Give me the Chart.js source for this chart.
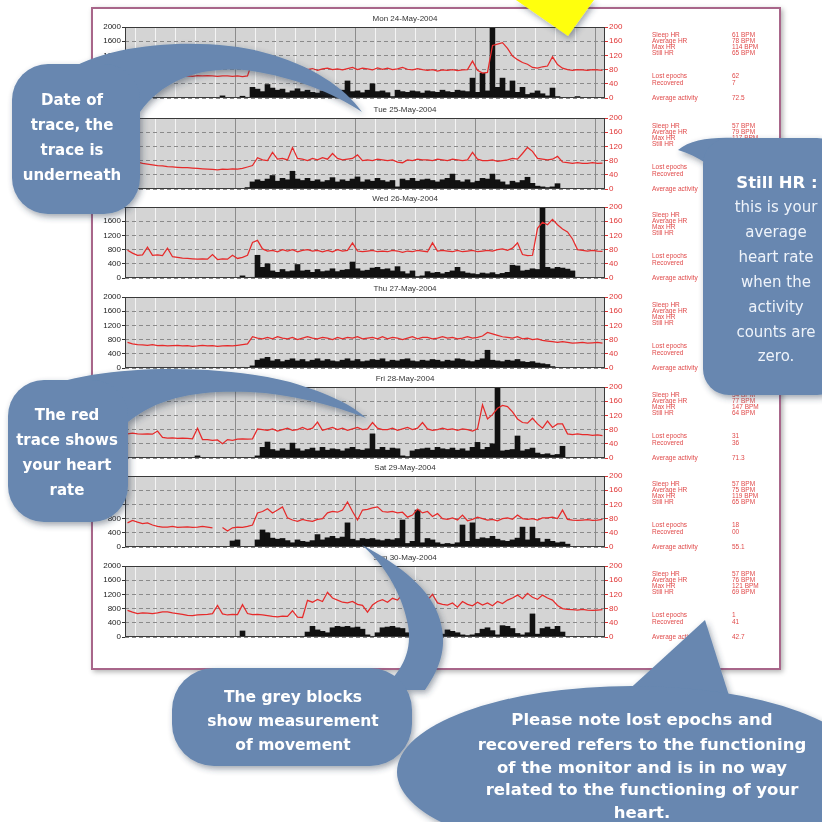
<!DOCTYPE html>
<html><head><meta charset="utf-8">
<script src="https://cdn.jsdelivr.net/npm/chart.js@4.4.1/dist/chart.umd.min.js"></script>
<style>
html,body{margin:0;padding:0;background:#fff;width:822px;height:822px;overflow:hidden;position:relative;font-family:"Liberation Sans",Arial,sans-serif;}
#frame{position:absolute;left:91px;top:7px;width:686px;height:659px;border:2px solid #a8668a;box-shadow:2px 2px 5px rgba(0,0,0,.3);}
.panel{position:absolute;left:95px;width:620px;height:91px;}
.stat{position:absolute;font-size:6.5px;color:#e04a4a;white-space:nowrap;line-height:7px;}
#ov{position:absolute;left:0;top:0;}
</style></head><body>
<div id="frame"></div>
<div id="panels"></div>
<svg id="ov" width="822" height="822" viewBox="0 0 822 822" xmlns="http://www.w3.org/2000/svg">
<defs><filter id="sh" x="-20%" y="-20%" width="140%" height="140%"><feDropShadow dx="2" dy="3" stdDeviation="3" flood-color="#2a3a50" flood-opacity="0.45"/></filter></defs>
<g filter="url(#sh)"><polygon points="516,0 594,0 568,36" fill="#ffff10"/></g>
<g fill="#6787b0" filter="url(#sh)">
 <path d="M 62,74 C 110,40 210,38 262,52 C 312,65 345,88 362,112 C 332,92 292,77 252,71 C 205,65 165,78 140,112 Z"/>
 <rect x="12" y="64" width="128" height="150" rx="36"/>
</g>
<g fill="#6787b0" filter="url(#sh)">
 <path d="M 678,150 C 690,140 710,137 735,138 L 735,185 C 715,168 698,156 678,150 Z"/>
 <rect x="703" y="138" width="140" height="257" rx="26"/>
</g>
<g fill="#6787b0" filter="url(#sh)">
 <path d="M 30,394 C 90,362 220,364 290,382 C 330,394 352,405 366,418 C 330,404 290,394 250,392 C 200,390 160,396 128,422 Z"/>
 <rect x="8" y="380" width="120" height="142" rx="36"/>
</g>
<g fill="#6787b0" filter="url(#sh)">
 <path d="M 362,545 C 400,565 432,590 440,620 C 447,645 442,665 425,690 L 380,690 C 405,670 412,648 408,625 C 403,598 388,568 362,545 Z"/>
 <rect x="172" y="668" width="240" height="98" rx="42"/>
</g>
<g fill="#6787b0" filter="url(#sh)">
 <polygon points="705,620 732,705 612,705"/>
 <ellipse cx="632" cy="772" rx="235" ry="86"/>
</g>
<g fill="#fff" font-family="DejaVu Sans" font-weight="bold" font-size="15" text-anchor="middle">
 <text x="72" y="105">Date of</text><text x="72" y="130">trace, the</text><text x="72" y="155">trace is</text><text x="72" y="180">underneath</text>
 <text x="67" y="420">The red</text><text x="67" y="445">trace shows</text><text x="67" y="470">your heart</text><text x="67" y="495">rate</text>
 <g font-size="15.5"><text x="293" y="702">The grey blocks</text><text x="293" y="726">show measurement</text><text x="293" y="750">of movement</text></g>
 <g font-size="16.5"><text x="642" y="725">Please note lost epochs and</text><text x="642" y="750">recovered refers to the functioning</text><text x="642" y="773">of the monitor and is in no way</text><text x="642" y="795">related to the functioning of your</text><text x="642" y="818">heart.</text></g>
 <text x="777" y="188" font-size="16.5">Still HR :</text>
</g>
<g fill="#eef3fa" font-family="DejaVu Sans" font-size="15" text-anchor="middle">
 <text x="776" y="212">this is your</text><text x="776" y="237">average</text><text x="776" y="262">heart rate</text><text x="776" y="287">when the</text><text x="776" y="312">activity</text><text x="776" y="337">counts are</text><text x="776" y="361">zero.</text>
</g>
</svg>
<script>
const TITLES = ['Mon 24-May-2004','Tue 25-May-2004','Wed 26-May-2004','Thu 27-May-2004','Fri 28-May-2004','Sat 29-May-2004','Sun 30-May-2004'];
const ACT_TICKS = [0,400,800,1200,1600,2000];
const HR_TICKS = [0,40,80,120,160,200];
const STAT_LABELS = ['Sleep HR','Average HR','Max HR','Still HR','Lost epochs','Recovered','Average activity'];
const STATS_MON = ['61 BPM','78 BPM','114 BPM','65 BPM','62','7','72.5'];
const STATS_TUE = ['57 BPM','79 BPM','117 BPM','66 BPM','24','12','84.2'];
const STATS_WED = ['53 BPM','77 BPM','165 BPM','62 BPM','15','22','68.4'];
const STATS_THU = ['60 BPM','80 BPM','112 BPM','66 BPM','20','18','64.0'];
const STATS_FRI = ['54 BPM','77 BPM','147 BPM','64 BPM','31','36','71.3'];
const STATS_SAT = ['57 BPM','75 BPM','119 BPM','65 BPM','18','00','55.1'];
const STATS_SUN = ['57 BPM','76 BPM','121 BPM','69 BPM','1','41','42.7'];

// heart rate (bpm), 15-minute epochs, 00:00 - 24:00
const HR_MON = [
62,62,61,63, 62,61,62,61, 62,63,62,61, 62,61,63,62, 63,62,61,62, 62,61,62,60,
62,104,86,82, 84,80,88,82, 79,84,81,86, 80,83,78,82, 84,80,82,79, 83,86,80,84,
82,79,85,81, 84,80,82,86, 81,79,83,80, 78,80,76,79, 78,80,77,79, 80,104,78,70,
72,148,152,156, 140,118,108,100, 95,86,84,88, 90,116,94,84, 80,78,80,79, 78,80,79,78];
const HR_TUE = [
80,92,76,72, 70,68,66,65, 63,62,61,60, 60,59,58,57, 56,55,54,56, 55,57,56,58,
62,66,88,82, 80,103,84,86, 82,117,86,84, 80,86,82,88, 84,100,86,82, 84,86,96,80,
82,80,84,82, 80,82,76,74, 82,80,84,82, 82,80,84,82, 80,84,82,80, 82,103,84,80,
80,82,78,80, 82,86,84,100, 117,106,86,84, 82,84,92,76, 74,72,74,72, 72,74,72,73];
const HR_WED = [
78,70,64,65, 87,64,65,63, 84,60,58,56, 55,54,53,54, 53,66,52,54, 53,64,55,58,
64,100,106,82, 76,78,74,80, 76,80,74,78, 80,76,78,74, 78,74,80,76, 78,99,76,74,
76,78,74,76, 74,78,76,72, 76,74,78,76, 74,99,76,78, 76,74,78,74, 76,78,74,76,
78,76,80,82, 78,84,99,66, 63,64,140,157, 150,165,150,138, 130,110,80,78, 76,78,76,75];
const HR_THU = [
72,68,66,65, 64,66,63,64, 62,63,64,62, 63,61,62,64, 62,63,61,62, 63,62,64,66,
68,88,84,82, 86,82,88,84, 82,86,80,84, 88,84,82,86, 84,80,86,82, 86,84,88,82,
84,86,82,88, 82,86,84,80, 84,88,82,86, 86,82,84,88, 84,86,82,84, 88,84,86,90,
100,96,92,88, 86,84,88,82, 84,80,82,78, 76,74,72,74, 72,70,71,72, 70,71,72,70];
const HR_FRI = [
68,70,68,67, 68,67,76,58, 56,57,55,56, 55,54,84,52, 52,50,51,40, 52,50,53,54,
53,54,82,80, 78,82,76,80, 84,78,80,86, 80,84,101,78, 82,86,80,84, 78,82,86,80,
82,100,84,80, 80,84,78,82, 86,80,84,100, 82,78,80,84, 80,82,78,82, 80,76,82,150,
110,122,140,148, 145,130,110,100, 98,112,96,84, 104,86,96,96, 68,66,68,66, 66,64,65,63];
const HR_SAT = [
68,75,70,66, 68,62,58,56, 56,58,55,56, 57,55,56,58, 56,54,null,55, 45,54,56,55,
58,62,96,100, 108,96,104,113, 82,76,72,78, 74,72,78,80, 96,100,98,104, 127,100,76,104,
106,110,113,100, 98,100,96,98, 84,90,107,96, 100,86,94,80, 78,82,76,90, 74,78,84,80,
76,78,74,80, 82,78,90,80, 78,80,76,82, 82,84,80,104, 78,76,75,76, 77,75,76,78];
const HR_SUN = [
75,70,66,68, 67,66,68,71, 71,68,66,64, 61,60,62,63, 64,66,89,65, 62,64,63,91,
66,63,64,62, 60,58,57,59, 58,74,56,55, 103,98,106,100, 126,110,104,98, 96,100,92,89,
70,90,100,105, 98,109,104,120, 88,72,96,100, 104,120,96,92, 90,96,84,100, 92,88,98,90,
96,88,100,94, 104,110,118,108, 123,112,106,118, 110,104,89,80, 78,77,76,78, 76,75,76,77];

// activity counts, 15-minute epochs
const ACT_MON = [
0,0,0,10, 0,0,0,0, 0,10,0,0, 0,0,0,0, 0,0,0,60, 0,0,0,50,
20,300,250,180, 380,280,220,250, 150,200,260,180, 220,160,140,200, 160,200,140,220, 480,180,200,150,
220,400,180,200, 150,40,220,180, 160,200,180,140, 200,180,160,220, 180,160,220,200, 180,560,160,700,
200,2000,300,560, 200,480,160,300, 100,140,200,120, 60,280,40,0, 0,0,40,0, 0,0,0,0];
const ACT_TUE = [
0,0,0,0, 0,0,0,0, 0,0,0,0, 0,0,0,0, 0,0,0,0, 0,0,0,0,
40,200,260,220, 280,380,220,300, 260,500,280,240, 300,220,260,200, 240,320,200,260, 220,280,340,200,
260,220,300,240, 200,240,60,280, 240,300,220,260, 280,240,200,260, 300,420,240,200, 260,180,220,300,
280,420,260,200, 120,220,180,240, 330,160,80,60, 40,60,150,0, 0,0,0,0, 0,0,0,0];
const ACT_WED = [
0,0,0,0, 0,0,0,0, 0,0,0,0, 0,0,0,0, 0,0,0,0, 0,0,0,60,
0,20,640,300, 400,200,160,240, 180,200,380,200, 220,160,240,180, 200,260,180,220, 240,450,260,200,
220,280,300,240, 260,200,320,180, 120,200,40,60, 180,140,160,120, 160,200,300,180, 140,120,100,140,
120,150,100,130, 160,360,340,200, 220,260,240,2000, 300,260,300,280, 250,200,20,0, 0,0,0,0];
const ACT_THU = [
0,0,0,0, 0,0,0,0, 0,0,0,0, 0,0,0,0, 0,0,0,0, 0,0,0,20,
0,60,220,260, 300,200,240,180, 220,260,200,240, 180,220,260,200, 240,200,180,220, 260,200,240,180,
200,240,220,260, 180,220,200,240, 260,200,180,220, 200,240,220,180, 220,200,260,240, 200,180,220,260,
500,220,200,180, 220,200,240,180, 160,180,140,120, 100,40,0,0, 0,0,0,0, 0,0,0,0];
const ACT_FRI = [
0,0,20,0, 10,0,0,0, 0,10,0,0, 0,0,60,0, 0,0,0,0, 0,0,10,0,
0,0,60,300, 450,240,200,260, 220,420,260,200, 240,280,200,300, 220,260,240,200, 260,300,240,220,
260,680,240,300, 220,280,260,60, 40,200,240,260, 280,220,300,260, 240,280,220,260, 200,300,440,240,
300,400,2000,200, 220,240,620,200, 240,280,140,100, 120,80,100,330, 0,0,0,0, 0,0,0,0];
const ACT_SAT = [
0,0,0,0, 0,0,0,0, 0,0,0,0, 0,0,0,0, 0,0,0,0, 0,170,200,0,
0,0,200,480, 400,250,220,240, 180,120,200,160, 140,180,350,200, 260,300,240,280, 680,220,180,240,
220,240,200,180, 220,200,240,760, 100,160,1040,120, 240,200,120,80, 100,80,120,620, 160,680,220,260,
240,300,220,180, 160,200,250,560, 200,560,240,140, 220,160,120,140, 80,0,0,0, 0,0,0,0];
const ACT_SUN = [
0,0,0,0, 0,0,0,0, 0,0,0,0, 0,0,0,0, 0,0,0,0, 0,0,0,170,
0,0,0,0, 0,0,0,0, 0,0,0,20, 140,300,200,160, 120,260,300,280, 300,260,280,220,
60,20,120,260, 280,300,260,240, 120,260,80,200, 100,260,120,80, 200,160,120,60, 40,60,100,220,
260,180,60,320, 300,240,100,60, 120,650,80,240, 280,220,300,140, 0,0,0,0, 0,0,0,0];

const HR = [HR_MON,HR_TUE,HR_WED,HR_THU,HR_FRI,HR_SAT,HR_SUN];
const ACT = [ACT_MON,ACT_TUE,ACT_WED,ACT_THU,ACT_FRI,ACT_SAT,ACT_SUN];
const STATS = [STATS_MON,STATS_TUE,STATS_WED,STATS_THU,STATS_FRI,STATS_SAT,STATS_SUN];

// layout
const PLOT_TOPS = [27,118,207,297,387,476,566];
const TITLE_H = 14;
const STAT_OFF = [8,14,20,26,49,56,71];
const EPOCH = 0.25;

const bgPlugin = {
  id:'bg',
  beforeDraw(chart){const {ctx,chartArea:a}=chart;ctx.save();ctx.fillStyle='#d4d4d4';ctx.fillRect(a.left,a.top,a.width,a.height);ctx.restore();},
  afterDraw(chart){const {ctx,chartArea:a}=chart;ctx.save();ctx.strokeStyle='#3a3a3a';ctx.lineWidth=1;ctx.strokeRect(a.left+0.5,a.top+0.5,a.width-1,a.height-1);ctx.restore();}
};

const host = document.getElementById('panels');
const ov = document.getElementById('ov');
TITLES.forEach((t,i)=>{
  const d = document.createElement('div');
  d.className='panel';
  d.style.top = (PLOT_TOPS[i]-TITLE_H)+'px';
  const c = document.createElement('canvas');
  c.width=620; c.height=91;
  d.appendChild(c); host.appendChild(d);
  new Chart(c,{
    data:{datasets:[
      {type:'line',label:'Heart rate',data:HR[i].map((v,k)=>({x:k*EPOCH+EPOCH/2,y:v})),yAxisID:'y2',borderColor:'#e62a2a',borderWidth:1.25,pointRadius:0,tension:0,spanGaps:false,order:0},
      {type:'bar',label:'Activity',data:ACT[i].map((v,k)=>({x:k*EPOCH+EPOCH/2,y:v})),yAxisID:'y',backgroundColor:'#111',barPercentage:1,categoryPercentage:1,order:1}
    ]},
    options:{
      responsive:false,animation:false,devicePixelRatio:1,
      layout:{padding:0},
      plugins:{legend:{display:false},tooltip:{enabled:false},
        title:{display:true,text:t,color:'#333',font:{family:'Liberation Sans',size:8,weight:'normal',lineHeight:1},padding:{top:2,bottom:4}}},
      scales:{
        x:{type:'linear',min:0,max:24,offset:false,ticks:{display:false,stepSize:1},
           grid:{color:c=>(c.tick&&c.tick.value%6===0)?'#8c8c8c':'#f4f4f4',drawTicks:false,lineWidth:1},
           border:{display:false},afterFit:s=>{s.height=6;}},
        y:{position:'left',min:0,max:2000,afterBuildTicks:s=>{s.ticks=ACT_TICKS.map(v=>({value:v}));},
           ticks:{color:'#222',font:{size:8,family:'Liberation Sans'},padding:1,callback:v=>String(v)},
           grid:{color:'#8a8a8a',tickColor:'#333',tickLength:3},border:{display:false,dash:[4,3]},
           afterFit:s=>{s.width=30;}},
        y2:{position:'right',min:0,max:200,afterBuildTicks:s=>{s.ticks=HR_TICKS.map(v=>({value:v}));},
           ticks:{color:'#e03434',font:{size:8,family:'Liberation Sans'},padding:1,callback:v=>String(v)},
           grid:{drawOnChartArea:false,tickColor:'#e03434',tickLength:3},border:{display:false},
           afterFit:s=>{s.width=110;}}
      }
    },
    plugins:[bgPlugin]
  });
  STAT_LABELS.forEach((lab,r)=>{
    const a=document.createElement('div');a.className='stat';a.textContent=lab;
    a.style.left='652px';a.style.top=(PLOT_TOPS[i]+STAT_OFF[r]-4)+'px';document.body.insertBefore(a,ov);
    const b=document.createElement('div');b.className='stat';b.textContent=STATS[i][r];
    b.style.left='732px';b.style.top=(PLOT_TOPS[i]+STAT_OFF[r]-4)+'px';document.body.insertBefore(b,ov);
  });
});
</script>
</body></html>
